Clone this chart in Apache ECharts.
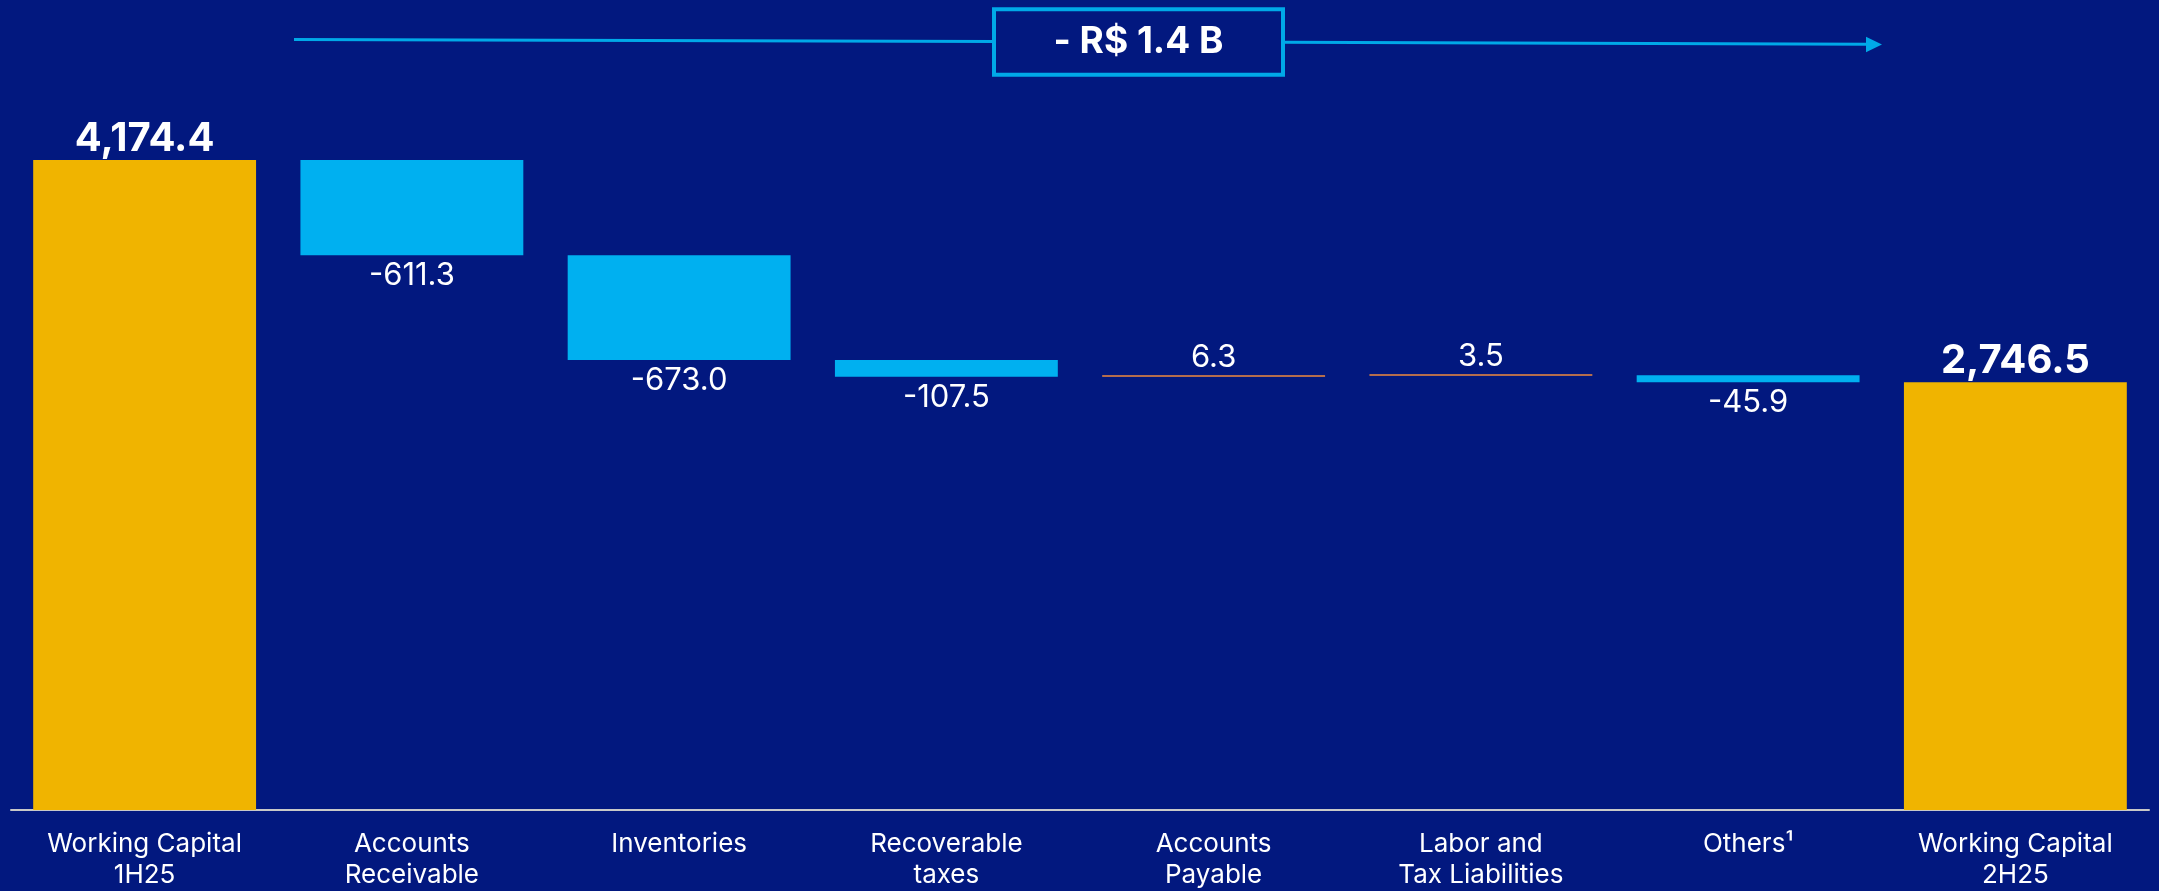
<!DOCTYPE html>
<html>
<head>
<meta charset="utf-8">
<script src="https://cdn.jsdelivr.net/npm/echarts@6/dist/echarts.min.js"></script>
<style>
html,body{margin:0;padding:0;background:#02187F;}
#chart{width:2159px;height:891px;}
</style>
</head>
<body>
<div id="chart"></div>
<script>
// ---- data ----
const categories = ['Working Capital\n1H25', 'Accounts\nReceivable', 'Inventories', 'Recoverable\ntaxes', 'Accounts\nPayable', 'Labor and\nTax Liabilities', 'Others¹', 'Working Capital\n2H25'];
const startTotal = 4174.4;
const deltas = [-611.3, -673.0, -107.5, 6.3, 3.5, -45.9];
const endTotal = 2746.5;
const annotationText = '- R$ 1.4 B';

// ---- build waterfall ----
const fmt = v => v.toLocaleString('en-US', {minimumFractionDigits: 1, maximumFractionDigits: 1});
const GOLD = '#F0B400', CYAN = '#00B0F0', ORANGE = '#F08A3C';
const totalLabel = v => ({position: 'top', fontWeight: 'bold', fontSize: 40, distance: 1, formatter: fmt(v)});
const baseData = [0];
const barData = [{value: startTotal, itemStyle: {color: GOLD}, label: totalLabel(startTotal)}];
let running = startTotal;
deltas.forEach(d => {
  if (d < 0) {
    running += d;
    baseData.push(running);
    barData.push({value: -d, itemStyle: {color: CYAN}, label: {position: 'bottom', distance: 5, formatter: fmt(d)}});
  } else {
    baseData.push(running);
    running += d;
    barData.push({value: d, itemStyle: {color: ORANGE}, label: {position: 'top', distance: 2, formatter: fmt(d)}});
  }
});
baseData.push(0);
barData.push({value: endTotal, itemStyle: {color: GOLD}, label: totalLabel(endTotal)});

const chart = echarts.init(document.getElementById('chart'), null, {renderer: 'canvas'});
const LINE = '#00A9E8';
chart.setOption({
  backgroundColor: '#02187F',
  animation: false,
  grid: {left: 11, right: 10, top: 31.4, bottom: 81, containLabel: false},
  xAxis: {
    type: 'category',
    data: categories,
    axisLine: {show: true, lineStyle: {color: '#C8C8C8', width: 2}},
    axisTick: {show: false},
    axisLabel: {color: '#FFFFFF', fontFamily: 'Inter', fontSize: 26, lineHeight: 31, margin: 19, interval: 0}
  },
  yAxis: {type: 'value', min: 0, max: 5000, show: false, splitLine: {show: false}},
  series: [
    {type: 'bar', stack: 'wf', data: baseData, barWidth: '83.4%', itemStyle: {color: 'transparent'}, silent: true},
    {type: 'bar', stack: 'wf', data: barData, barWidth: '83.4%', barMinHeight: 1.5,
     label: {show: true, color: '#FFFFFF', fontFamily: 'Inter', fontSize: 31}}
  ],
  graphic: [
    {type: 'line', shape: {x1: 294, y1: 39.5, x2: 994, y2: 41.5}, style: {stroke: LINE, lineWidth: 3}},
    {type: 'line', shape: {x1: 1283, y1: 42.3, x2: 1868, y2: 44.3}, style: {stroke: LINE, lineWidth: 3}},
    {type: 'polygon', shape: {points: [[1866, 36.7], [1882, 44.5], [1866, 52.3]]}, style: {fill: LINE}},
    {type: 'rect', shape: {x: 994, y: 9.3, width: 289, height: 65.4}, style: {fill: '#02187F', stroke: LINE, lineWidth: 4}},
    {type: 'text', x: 1138.5, y: 42, style: {text: annotationText, fill: '#FFFFFF', font: 'bold 37px Inter', align: 'center', verticalAlign: 'middle'}}
  ]
});
</script>
</body>
</html>
